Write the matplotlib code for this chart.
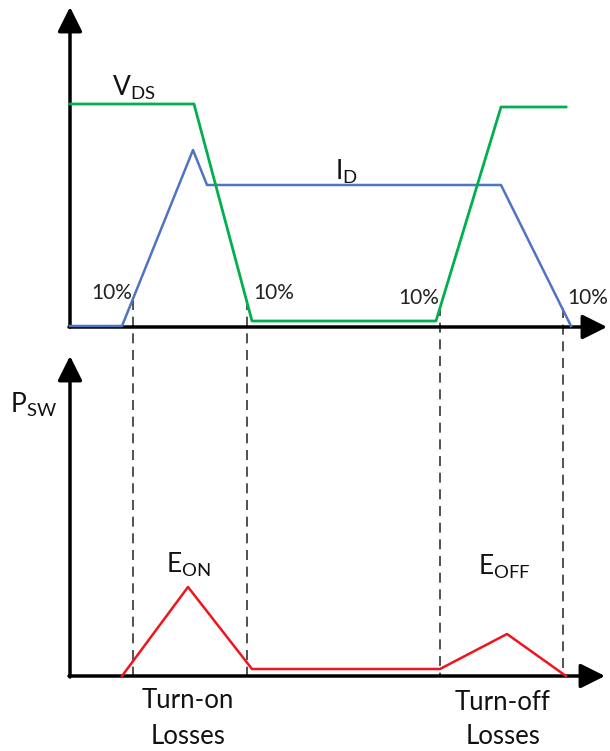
import matplotlib
matplotlib.use("Agg")
import matplotlib.pyplot as plt

plt.rcParams['font.family'] = ['Lato', 'DejaVu Sans']
plt.rcParams['mathtext.default'] = 'regular'

# waveform corner points (x = time, y = level), drawn in pixel units
vds_t = [70, 194, 252, 436, 501, 566]
vds_v = [104, 104, 321, 321, 107, 107]

id_t = [70, 122, 193, 207, 501, 571]
id_v = [326, 326, 150, 185, 185, 326]

psw_t = [122, 188, 252, 440, 507, 566]
psw_v = [676, 587, 669, 669, 634, 676]

# 10% crossing instants and where the marker lines start
cross_t = [133, 247, 440, 563]
cross_v = [300, 300, 306, 308]
pct_labels = ['10%', '10%', '10%', '10%']
pct_pos = [(112, 293), (274, 293), (419, 298), (588, 298)]

fig = plt.figure(figsize=(6.10, 7.51), dpi=100)
ax = fig.add_axes([0, 0, 1, 1])
ax.set_xlim(0, 610)
ax.set_ylim(751, 0)
ax.axis('off')

green = '#00B050'
blue = '#4F74C0'
red = '#F0141E'

# axes with arrowheads
arrow = dict(arrowstyle='-|>,head_length=1.0,head_width=0.5', lw=2.5, color='black',
             shrinkA=0, shrinkB=0, mutation_scale=15)
ax.annotate('', xy=(70, 7), xytext=(70, 327), arrowprops=arrow)
ax.annotate('', xy=(607, 327), xytext=(69, 327), arrowprops=arrow)
ax.annotate('', xy=(70, 356), xytext=(70, 677), arrowprops=arrow)
ax.annotate('', xy=(605, 676), xytext=(69, 676), arrowprops=arrow)

# dashed markers at the 10% points
for t, v in zip(cross_t, cross_v):
    ax.plot([t, t], [v, 676], color='#333333', lw=1.2, ls=(0, (6, 4)), zorder=1)

ax.plot(id_t, id_v, color=blue, lw=1.8, zorder=3)
ax.plot(vds_t, vds_v, color=green, lw=2.0, zorder=4)
ax.plot(psw_t, psw_v, color=red, lw=1.8, zorder=4)

fs = 15
big = 19
ax.text(134, 88, r'$\mathregular{V_{DS}}$', fontsize=big, ha='center', va='center', color='#111111')
ax.text(346, 172, r'$\mathregular{I_{D}}$', fontsize=big, ha='center', va='center', color='#111111')
for s, (x, y) in zip(pct_labels, pct_pos):
    ax.text(x, y, s, fontsize=fs, ha='center', va='center', color='#222222')

ax.text(33, 405, r'$\mathregular{P_{SW}}$', fontsize=big, ha='center', va='center', color='#111111')
ax.text(188, 565, r'$\mathregular{E_{ON}}$', fontsize=big, ha='center', va='center', color='#111111')
ax.text(504, 567, r'$\mathregular{E_{OFF}}$', fontsize=big, ha='center', va='center', color='#111111')

ax.text(188, 701, 'Turn-on', fontsize=18.5, ha='center', va='center', color='#111111')
ax.text(188, 736, 'Losses', fontsize=18.5, ha='center', va='center', color='#111111')
ax.text(503, 702, 'Turn-off', fontsize=18.5, ha='center', va='center', color='#111111')
ax.text(503, 737, 'Losses', fontsize=18.5, ha='center', va='center', color='#111111')

fig.savefig('out.png', dpi=100)
